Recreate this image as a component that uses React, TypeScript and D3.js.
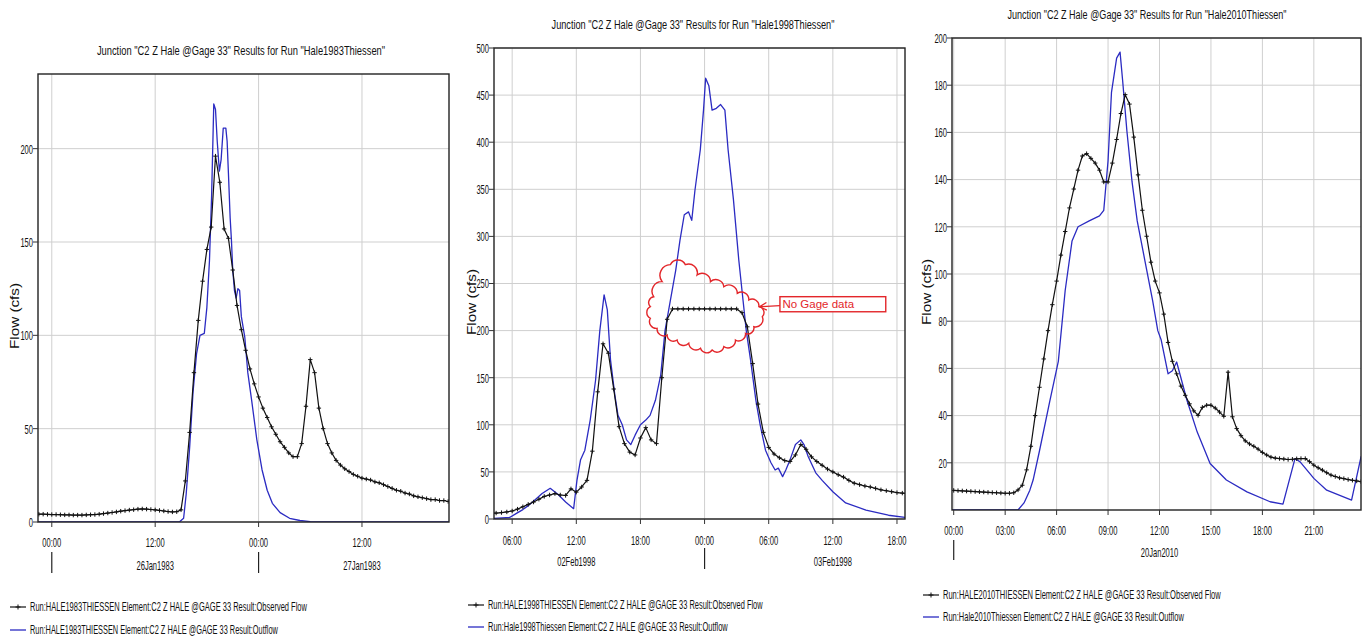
import React, { useLayoutEffect, useRef, useState } from "react";
import * as d3 from "d3";

type Pt = [number, number];

// ---------------- DATA ----------------
// hours relative to 00:00 of the first labelled day, flow in cfs

const title1983 = 'Junction "C2 Z Hale @Gage 33" Results for Run "Hale1983Thiessen"';
const title1998 = 'Junction "C2 Z Hale @Gage 33" Results for Run "Hale1998Thiessen"';
const title2010 = 'Junction "C2 Z Hale @Gage 33" Results for Run "Hale2010Thiessen"';

const legendObs1983 = "Run:HALE1983THIESSEN Element:C2 Z HALE @GAGE 33 Result:Observed Flow";
const legendSim1983 = "Run:HALE1983THIESSEN Element:C2 Z HALE @GAGE 33 Result:Outflow";
const legendObs1998 = "Run:HALE1998THIESSEN Element:C2 Z HALE @GAGE 33 Result:Observed Flow";
const legendSim1998 = "Run:Hale1998Thiessen Element:C2 Z HALE @GAGE 33 Result:Outflow";
const legendObs2010 = "Run:HALE2010THIESSEN Element:C2 Z HALE @GAGE 33 Result:Observed Flow";
const legendSim2010 = "Run:Hale2010Thiessen Element:C2 Z HALE @GAGE 33 Result:Outflow";

const yAxisLabel = "Flow (cfs)";

const yTicks1983 = [0, 50, 100, 150, 200];
const yTicks1998 = [0, 50, 100, 150, 200, 250, 300, 350, 400, 450, 500];
const yTicks2010 = [20, 40, 60, 80, 100, 120, 140, 160, 180, 200];

const xTicks1983 = [0, 12, 24, 36];
const xTickLabels1983 = ["00:00", "12:00", "00:00", "12:00"];
const dateHours1983 = [12, 36];
const dateLabels1983 = ["26Jan1983", "27Jan1983"];
const dayMarks1983 = [0, 24];

const xTicks1998 = [6, 12, 18, 24, 30, 36, 42];
const xTickLabels1998 = ["06:00", "12:00", "18:00", "00:00", "06:00", "12:00", "18:00"];
const dateHours1998 = [12, 36];
const dateLabels1998 = ["02Feb1998", "03Feb1998"];
const dayMarks1998 = [24];

const xTicks2010 = [0, 3, 6, 9, 12, 15, 18, 21];
const xTickLabels2010 = ["00:00", "03:00", "06:00", "09:00", "12:00", "15:00", "18:00", "21:00"];
const dateHours2010 = [12];
const dateLabels2010 = ["20Jan2010"];
const dayMarks2010 = [0];

const obs1983: Pt[] = [
  [-2, 4.2], [-1.5, 4.2], [-1, 4.2], [-0.5, 4.1], [0, 4.0], [0.5, 4.0], [1, 3.9], [1.5, 3.8], [2, 3.8],
  [2.5, 3.7], [3, 3.7], [3.5, 3.7], [4, 3.8], [4.5, 3.9], [5, 4.0], [5.5, 4.2], [6, 4.5], [6.5, 4.8],
  [7, 5.1], [7.5, 5.4], [8, 5.8], [8.5, 6.1], [9, 6.4], [9.5, 6.6], [10, 6.9], [10.5, 7.0], [11, 6.9],
  [11.5, 6.7], [12, 6.5], [12.5, 6.2], [13, 5.9], [13.5, 5.6], [14, 5.4], [14.5, 5.5], [15, 6.5],
  [15.5, 22], [16, 48], [16.5, 80], [17, 108], [17.5, 129], [18, 146], [18.5, 158], [19, 196],
  [19.5, 182], [20, 157], [20.5, 152], [21, 135], [21.5, 116], [22, 103], [22.5, 92], [23, 82],
  [23.5, 74], [24, 67], [24.5, 61], [25, 56], [25.5, 51], [26, 47], [26.5, 43], [27, 40], [27.5, 37],
  [28, 35], [28.5, 35], [29, 42], [29.5, 62], [30, 87], [30.5, 80], [31, 61], [31.5, 50], [32, 42],
  [32.5, 37], [33, 33], [33.5, 30.5], [34, 28.5], [34.5, 27], [35, 25.5], [35.5, 24.5], [36, 23.5],
  [36.5, 23], [37, 22.5], [37.5, 21.5], [38, 21], [38.5, 20], [39, 19], [39.5, 18], [40, 17],
  [40.5, 16.5], [41, 15.5], [41.5, 15], [42, 14], [42.5, 13.5], [43, 13], [43.5, 12.5], [44, 12],
  [44.5, 12], [45, 11.5], [45.5, 11.5], [46, 11], [46.5, 11],
];

const sim1983: Pt[] = [
  [-2, 0], [14.8, 0], [15.3, 2], [15.6, 15], [16.0, 40], [16.4, 70], [16.8, 90], [17.2, 100],
  [17.7, 101], [18.0, 115], [18.3, 140], [18.55, 175], [18.8, 224], [19.0, 221], [19.2, 204],
  [19.45, 188], [19.65, 194], [19.9, 211], [20.2, 211], [20.35, 204], [20.5, 187], [20.7, 163],
  [20.85, 151], [21.0, 135], [21.2, 124], [21.4, 120], [21.6, 125], [21.8, 124], [22.0, 110],
  [22.4, 99], [22.75, 80], [23.2, 65], [23.8, 44], [24.4, 28], [25.0, 17], [25.6, 10], [26.5, 5],
  [27.6, 2], [28.8, 0.8], [30, 0.2], [32, 0], [46.5, 0],
];

const obs1998: Pt[] = [
  [4.0, 6.0], [4.5, 6.3], [5.0, 6.8], [5.5, 7.5], [6.0, 8.5], [6.5, 10.5], [7.0, 13], [7.5, 15.5],
  [8.0, 18], [8.5, 21], [9.0, 24], [9.5, 25.5], [10.0, 27], [10.5, 25.5], [11.0, 25], [11.5, 32],
  [12.0, 28.5], [12.5, 34], [13.0, 41], [13.5, 72], [14.0, 135], [14.5, 186], [15.0, 176],
  [15.5, 138], [16.0, 98], [16.5, 80], [17.0, 71], [17.5, 68], [18.0, 86], [18.5, 97], [19.0, 84],
  [19.5, 80], [20.0, 150], [20.5, 212], [21.0, 223], [21.5, 223], [22.0, 223], [22.5, 223],
  [23.0, 223], [23.5, 223], [24.0, 223], [24.5, 223], [25.0, 223], [25.5, 223], [26.0, 223],
  [26.5, 223], [27.0, 223], [27.5, 219], [28.0, 204], [28.5, 165], [29.0, 122], [29.5, 92],
  [30.0, 76], [30.5, 69], [31.0, 65], [31.5, 62], [32.0, 61], [32.5, 68], [33.0, 79], [33.5, 74],
  [34.0, 66], [34.5, 61], [35.0, 57], [35.5, 53], [36.0, 50], [36.5, 47], [37.0, 44.5], [37.5, 41],
  [38.0, 38], [38.5, 36.5], [39.0, 35], [39.5, 34], [40.0, 32.5], [40.5, 31], [41.0, 30],
  [41.5, 29], [42.0, 28], [42.5, 27.5], [43.0, 27],
];

const sim1998: Pt[] = [
  [4.0, 0.6], [4.3, 0.7], [5.8, 1.8], [6.4, 6], [7.0, 10], [7.6, 15], [8.2, 21], [8.8, 27],
  [9.56, 32.6], [10.3, 26], [11.0, 18], [11.75, 11], [12.06, 41], [12.4, 63], [12.8, 73],
  [13.3, 105], [13.8, 147], [14.2, 200], [14.6, 238], [14.9, 222], [15.2, 169], [15.6, 132],
  [15.9, 110], [16.3, 100], [16.7, 84], [17.1, 79], [17.5, 89], [18.0, 100], [18.5, 105],
  [18.9, 110], [19.4, 126], [19.9, 153], [20.3, 200], [20.8, 232], [21.3, 264], [21.7, 296],
  [22.1, 323], [22.5, 326], [22.8, 317], [23.1, 349], [23.6, 392], [23.9, 434], [24.1, 468],
  [24.4, 460], [24.7, 434], [25.1, 436], [25.5, 440], [25.9, 434], [26.2, 392], [26.7, 339],
  [27.2, 275], [27.6, 232], [27.9, 200], [28.3, 169], [28.8, 126], [29.2, 100], [29.7, 73],
  [30.2, 60], [30.6, 52], [30.9, 54], [31.3, 45], [31.6, 52], [32.0, 63], [32.5, 79], [33.0, 84],
  [33.3, 79], [33.7, 66], [34.4, 49], [35.0, 41], [36.0, 29], [37.2, 17], [39.1, 9.5], [41.2, 4],
  [42.75, 1.8], [43.0, 1.6],
];

const obs2010: Pt[] = [
  [0.0, 8.3], [0.25, 8.2], [0.5, 8.1], [0.75, 8.0], [1.0, 7.9], [1.25, 7.8], [1.5, 7.7], [1.75, 7.6],
  [2.0, 7.5], [2.25, 7.4], [2.5, 7.3], [2.75, 7.2], [3.0, 7.1], [3.25, 7.1], [3.5, 7.3], [3.75, 8.5],
  [4.0, 10.5], [4.25, 17], [4.5, 27], [4.75, 40], [5.0, 52], [5.25, 64], [5.5, 76], [5.75, 87],
  [6.0, 97], [6.25, 108], [6.5, 118], [6.75, 128], [7.0, 136], [7.25, 144], [7.5, 150], [7.75, 151],
  [8.0, 149], [8.25, 147], [8.5, 144], [8.75, 139], [9.0, 139], [9.25, 147], [9.5, 157], [9.75, 168],
  [10.0, 176], [10.25, 172], [10.5, 158], [10.75, 142], [11.0, 127], [11.25, 116], [11.5, 105],
  [11.75, 97], [12.0, 92], [12.25, 83], [12.5, 71], [12.75, 63], [13.0, 57.7], [13.25, 52.5],
  [13.5, 48.6], [13.75, 45], [14.0, 42], [14.25, 40.1], [14.5, 43.5], [14.75, 44.4], [15.0, 44.4],
  [15.25, 43.2], [15.5, 41.5], [15.75, 39.7], [16.0, 58.4], [16.25, 39.5], [16.5, 34.5],
  [16.75, 31.5], [17.0, 29.3], [17.25, 28], [17.5, 27], [17.75, 25.8], [18.0, 24.4], [18.25, 23.3],
  [18.5, 22.4], [18.75, 22], [19.0, 21.8], [19.25, 21.6], [19.5, 21.4], [19.75, 21.5], [20.0, 21.7],
  [20.25, 21.8], [20.5, 21.8], [20.75, 20.5], [21.0, 19], [21.25, 17.9], [21.5, 16.9], [21.75, 15.8],
  [22.0, 14.8], [22.25, 14.2], [22.5, 13.6], [22.75, 13.3], [23.0, 12.9], [23.25, 12.6],
  [23.5, 12.3], [23.75, 12.0],
];

const sim2010: Pt[] = [
  [-0.2, 0], [3.75, 0], [4.1, 3], [4.44, 8.4], [4.63, 12.7], [5.0, 25], [5.6, 46], [6.1, 63],
  [6.5, 93], [6.9, 114], [7.25, 120], [7.9, 122.5], [8.5, 124.6], [8.75, 127], [9.0, 148],
  [9.2, 177], [9.5, 191.5], [9.7, 194], [9.85, 182], [10.1, 160.5], [10.4, 139], [10.7, 122.5],
  [11.15, 105.6], [11.6, 88.7], [11.9, 76], [12.1, 72], [12.5, 57.7], [12.75, 59], [13.0, 62.7],
  [13.6, 46.5], [14.2, 33], [14.95, 19.7], [15.9, 12.7], [17.1, 7.7], [18.45, 3.5], [19.2, 2.5],
  [19.9, 21.8], [20.2, 20.4], [21.0, 13.4], [21.75, 8.4], [23.2, 4.2], [23.75, 22.5], [23.8, 23],
];

// "No Gage data" annotation on the 1998 run, in (hours, cfs)
const cloud1998: Pt[] = [
  [20.03, 252], [20.8, 270], [22.2, 270], [23.3, 259], [24.55, 252], [25.8, 246.6], [27.06, 239.6],
  [28.14, 232.5], [29.08, 225.4], [29.4, 214.8], [28.61, 204.1], [27.83, 197.1], [26.89, 190],
  [25.8, 182.9], [24.71, 179.4], [23.62, 181.2], [22.52, 186.5], [21.43, 190], [20.5, 195.3],
  [19.56, 202.4], [18.93, 213.1], [18.93, 225.4], [19.24, 236],
];
const noteText1998 = "No Gage data";
const noteBox1998: Pt[] = [[31.05, 236], [40.95, 220]];
const noteArrow1998: Pt[] = [[31.05, 226.5], [29.15, 225.3]];

// ---------------- STYLE / LAYOUT ----------------
const FONT = '"Liberation Sans", Arial, "DejaVu Sans", sans-serif';
const BLUE = "#2b2bc2";
const BLACK = "#111111";
const GRID = "#cfcfcf";
const RED = "#e3262a";
const TEXT = "#111111";
const SX = 0.56;

type PanelCfg = {
  key: string;
  box: { l: number; r: number; t: number; b: number };
  xDomain: [number, number];
  yDomain: [number, number];
  yTicks: number[];
  xTicks: number[];
  xTickLabels: string[];
  dateHours: number[];
  dateLabels: string[];
  dayMarks: number[];
  obs: Pt[];
  sim: Pt[];
  title: string;
  titlePos: [number, number, number];
  yLabelPos: [number, number];
  tickLabelY: number;
  dateLabelY: number;
  dayMarkY: [number, number];
  legend: { x0: number; y1: number; y2: number; w1: number; w2: number; t1: string; t2: string };
  note?: boolean;
};

const panels: PanelCfg[] = [
  {
    key: "p1983",
    box: { l: 38, r: 449, t: 74, b: 522 },
    xDomain: [-1.6, 46.1],
    yDomain: [0, 240],
    yTicks: yTicks1983,
    xTicks: xTicks1983,
    xTickLabels: xTickLabels1983,
    dateHours: dateHours1983,
    dateLabels: dateLabels1983,
    dayMarks: dayMarks1983,
    obs: obs1983,
    sim: sim1983,
    title: title1983,
    titlePos: [241, 55, 288],
    yLabelPos: [19, 316],
    tickLabelY: 547,
    dateLabelY: 570,
    dayMarkY: [552, 573],
    legend: { x0: 10, y1: 607, y2: 630, w1: 277, w2: 248, t1: legendObs1983, t2: legendSim1983 },
  },
  {
    key: "p1998",
    box: { l: 494, r: 905, t: 48, b: 519 },
    xDomain: [4.3, 42.75],
    yDomain: [0, 500],
    yTicks: yTicks1998,
    xTicks: xTicks1998,
    xTickLabels: xTickLabels1998,
    dateHours: dateHours1998,
    dateLabels: dateLabels1998,
    dayMarks: dayMarks1998,
    obs: obs1998,
    sim: sim1998,
    title: title1998,
    titlePos: [693, 29, 283],
    yLabelPos: [476, 302],
    tickLabelY: 545,
    dateLabelY: 566,
    dayMarkY: [548, 569],
    legend: { x0: 468, y1: 605, y2: 627, w1: 275, w2: 240, t1: legendObs1998, t2: legendSim1998 },
    note: true,
  },
  {
    key: "p2010",
    box: { l: 952, r: 1361, t: 38, b: 510 },
    xDomain: [-0.1, 23.75],
    yDomain: [0, 200],
    yTicks: yTicks2010,
    xTicks: xTicks2010,
    xTickLabels: xTickLabels2010,
    dateHours: dateHours2010,
    dateLabels: dateLabels2010,
    dayMarks: dayMarks2010,
    obs: obs2010,
    sim: sim2010,
    title: title2010,
    titlePos: [1147, 19, 279],
    yLabelPos: [931, 292],
    tickLabelY: 535,
    dateLabelY: 557,
    dayMarkY: [540, 560],
    legend: { x0: 923, y1: 595, y2: 617, w1: 278, w2: 241, t1: legendObs2010, t2: legendSim2010 },
  },
];

// Text squeezed horizontally: either by a fixed factor, or to fit a target width
function SText(props: {
  x: number;
  y: number;
  anchor?: "start" | "middle" | "end";
  size?: number;
  fill?: string;
  dy?: string;
  width?: number;
  rotate?: number;
  children: string;
}) {
  const { x, y, anchor = "middle", size = 13.5, fill = TEXT, dy, width, rotate = 0, children } = props;
  const ref = useRef<SVGTextElement>(null);
  const [sx, setSx] = useState(width ? 0.7 : SX);
  useLayoutEffect(() => {
    if (!width || !ref.current) return;
    const w = ref.current.getComputedTextLength();
    if (w > 0) setSx(width / w);
  }, [width, children, size]);
  return (
    <text
      ref={ref}
      transform={`translate(${x},${y}) rotate(${rotate}) scale(${sx},1)`}
      textAnchor={anchor}
      fontSize={size}
      fontFamily={FONT}
      fill={fill}
      dy={dy}
    >
      {children}
    </text>
  );
}

function crossPath(pts: [number, number][], s: number) {
  return pts.map(([x, y]) => `M${x - s},${y}H${x + s}M${x},${y - s}V${y + s}`).join("");
}

function cloudPath(pts: [number, number][]) {
  let d = `M${pts[0][0]},${pts[0][1]}`;
  for (let i = 0; i < pts.length; i++) {
    const a = pts[i];
    const b = pts[(i + 1) % pts.length];
    const r = Math.hypot(b[0] - a[0], b[1] - a[1]) * 0.56;
    d += ` A${r},${r} 0 0 1 ${b[0]},${b[1]}`;
  }
  return d + "Z";
}

function Panel({ cfg }: { cfg: PanelCfg }) {
  const { box } = cfg;
  const x = d3.scaleLinear().domain(cfg.xDomain).range([box.l, box.r]);
  const y = d3.scaleLinear().domain(cfg.yDomain).range([box.b, box.t]);
  const line = d3
    .line<Pt>()
    .x((d) => x(d[0]))
    .y((d) => y(d[1]));
  const clipId = `clip-${cfg.key}`;
  const obsPx = cfg.obs.map((d) => [x(d[0]), y(d[1])] as [number, number]);
  const lg = cfg.legend;

  let note: React.ReactNode = null;
  if (cfg.note) {
    const cp = cloud1998.map((d) => [x(d[0]), y(d[1])] as [number, number]);
    const [b0, b1] = noteBox1998;
    const [a0, a1] = noteArrow1998;
    const ax0 = x(a0[0]), ay0 = y(a0[1]), ax1 = x(a1[0]), ay1 = y(a1[1]);
    const ang = Math.atan2(ay1 - ay0, ax1 - ax0);
    const hl = 8;
    const h1 = [ax1 - hl * Math.cos(ang - 0.5), ay1 - hl * Math.sin(ang - 0.5)];
    const h2 = [ax1 - hl * Math.cos(ang + 0.5), ay1 - hl * Math.sin(ang + 0.5)];
    note = (
      <g>
        <path d={cloudPath(cp)} fill="none" stroke={RED} strokeWidth={1.4} />
        <rect
          x={x(b0[0])}
          y={y(b0[1])}
          width={x(b1[0]) - x(b0[0])}
          height={y(b1[1]) - y(b0[1])}
          fill="white"
          stroke={RED}
          strokeWidth={1.4}
        />
        <text x={x(b0[0]) + 2.5} y={y(b1[1]) - 4} fontSize={11.5} fontFamily={FONT} fill={RED}>
          {noteText1998}
        </text>
        <line x1={ax0} y1={ay0} x2={ax1} y2={ay1} stroke={RED} strokeWidth={1.3} />
        <path d={`M${h1[0]},${h1[1]}L${ax1},${ay1}L${h2[0]},${h2[1]}`} fill="none" stroke={RED} strokeWidth={1.3} />
      </g>
    );
  }

  return (
    <g>
      <defs>
        <clipPath id={clipId}>
          <rect x={box.l} y={box.t} width={box.r - box.l} height={box.b - box.t} />
        </clipPath>
      </defs>
      {/* grid */}
      <g stroke={GRID} strokeWidth={1}>
        {cfg.yTicks.map((t) => (
          <line key={`gy${t}`} x1={box.l} x2={box.r} y1={y(t)} y2={y(t)} />
        ))}
        {cfg.xTicks.map((t) => (
          <line key={`gx${t}`} x1={x(t)} x2={x(t)} y1={box.t} y2={box.b} />
        ))}
      </g>
      {/* series */}
      <g clipPath={`url(#${clipId})`}>
        <path d={line(cfg.sim) || ""} fill="none" stroke={BLUE} strokeWidth={1.3} strokeLinejoin="round" />
        <path d={line(cfg.obs) || ""} fill="none" stroke={BLACK} strokeWidth={1.2} strokeLinejoin="round" />
        <path d={crossPath(obsPx, 2.2)} fill="none" stroke={BLACK} strokeWidth={1} />
      </g>
      {note}
      {/* frame */}
      <rect x={box.l} y={box.t} width={box.r - box.l} height={box.b - box.t} fill="none" stroke="#222" strokeWidth={1.4} />
      {/* y ticks */}
      {cfg.yTicks.map((t) => (
        <g key={`yt${t}`}>
          <line x1={box.l - 5} x2={box.l} y1={y(t)} y2={y(t)} stroke="#333" strokeWidth={1} />
          <SText x={box.l - 5} y={y(t)} anchor="end" dy="0.36em">
            {String(t)}
          </SText>
        </g>
      ))}
      {/* x ticks */}
      {cfg.xTicks.map((t, i) => (
        <g key={`xt${t}`}>
          <line x1={x(t)} x2={x(t)} y1={box.b} y2={box.b + 5} stroke="#333" strokeWidth={1} />
          <SText x={x(t)} y={cfg.tickLabelY}>{cfg.xTickLabels[i]}</SText>
        </g>
      ))}
      {cfg.dateHours.map((h, i) => (
        <SText key={`dl${h}`} x={x(h)} y={cfg.dateLabelY}>
          {cfg.dateLabels[i]}
        </SText>
      ))}
      {cfg.dayMarks.map((h) => (
        <line key={`dm${h}`} x1={x(h)} x2={x(h)} y1={cfg.dayMarkY[0]} y2={cfg.dayMarkY[1]} stroke="#222" strokeWidth={1.2} />
      ))}
      {/* title */}
      <SText x={cfg.titlePos[0]} y={cfg.titlePos[1]} size={13.5} width={cfg.titlePos[2]}>
        {cfg.title}
      </SText>
      {/* y label */}
      <SText x={cfg.yLabelPos[0]} y={cfg.yLabelPos[1]} size={12.5} width={66} rotate={-90}>
        {yAxisLabel}
      </SText>
      {/* legend */}
      <g>
        <line x1={lg.x0} x2={lg.x0 + 16} y1={lg.y1} y2={lg.y1} stroke={BLACK} strokeWidth={1.2} />
        <path d={crossPath([[lg.x0 + 8, lg.y1]], 2.5)} stroke={BLACK} strokeWidth={1} />
        <SText x={lg.x0 + 20} y={lg.y1 + 4} anchor="start" size={13} width={lg.w1}>
          {lg.t1}
        </SText>
        <line x1={lg.x0} x2={lg.x0 + 16} y1={lg.y2} y2={lg.y2} stroke={BLUE} strokeWidth={1.3} />
        <SText x={lg.x0 + 20} y={lg.y2 + 4} anchor="start" size={13} width={lg.w2}>
          {lg.t2}
        </SText>
      </g>
    </g>
  );
}

export default function App() {
  return (
    <svg
      width={1364}
      height={638}
      viewBox="0 0 1364 638"
      style={{ position: "absolute", left: 0, top: 0, background: "white" }}
    >
      <rect x={0} y={0} width={1364} height={638} fill="white" />
      {panels.map((p) => (
        <Panel key={p.key} cfg={p} />
      ))}
    </svg>
  );
}
